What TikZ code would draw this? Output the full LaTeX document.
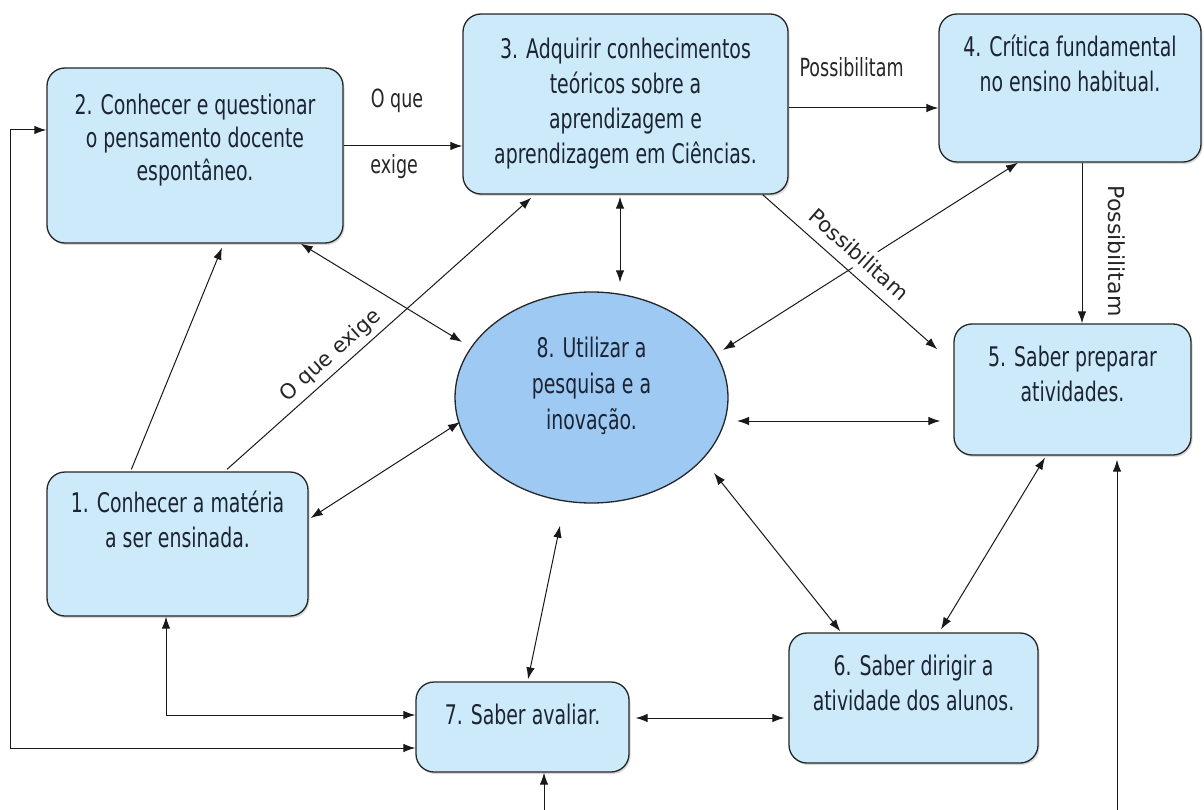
\documentclass[tikz,border=0pt]{standalone}
\usepackage{fontspec}
\setmainfont[FakeStretch=0.70]{DejaVu Sans}
\newfontfamily\widefont{DejaVu Sans}
\usetikzlibrary{arrows.meta,shadows,shapes.geometric}
\definecolor{boxblue}{HTML}{CDEAFB}
\definecolor{ellblue}{HTML}{9DC9F2}
\definecolor{txtcol}{HTML}{1C2433}
\newcommand\liftbox[2]{\raisebox{#1}[\height][\depth]{\begin{tabular}{@{}c@{}}#2\end{tabular}}}
\begin{document}
\begin{tikzpicture}[x=1pt,y=-1pt,
  box/.style={draw=black!85, line width=1.3pt, rounded corners=18pt, fill=boxblue, text=txtcol,
    inner sep=0pt, font=\fontsize{27}{35}\selectfont,
    drop shadow={shadow xshift=1.5pt, shadow yshift=-2pt, opacity=0.3}},
  ell/.style={ellipse, draw=black!85, line width=1.3pt, fill=ellblue, text=txtcol, inner sep=0pt,
    font=\fontsize{27}{36}\selectfont},
  arr/.style={-{Latex[length=12pt,width=8.5pt]}, line width=1pt, black!90},
  barr/.style={{Latex[length=12pt,width=8.5pt]}-{Latex[length=12pt,width=8.5pt]}, line width=1pt, black!90},
  lab/.style={font=\fontsize{25}{28}\selectfont, text=black!85, inner sep=1pt},
  dlab/.style={font=\widefont\fontsize{21}{25}\selectfont, text=black!85, inner sep=3pt},
  vlab/.style={font=\widefont\fontsize{22}{25}\selectfont, text=black!85, inner sep=1pt}
]
\useasboundingbox (0,0) rectangle (1204,810);
\fill[white] (0,0) rectangle (1204,810);

% nodes
\node[box, minimum width=296pt, minimum height=175pt] (b2) at (195,155.5)
  {\fontsize{27}{33}\selectfont\liftbox{15pt}{2. Conhecer e questionar\\o pensamento docente\\espontâneo.}};
\node[box, minimum width=325pt, minimum height=180pt] (b3) at (625.5,104)
  {\liftbox{0pt}{3. Adquirir conhecimentos\\teóricos sobre a\\aprendizagem e\\aprendizagem em Ciências.}};
\node[box, minimum width=262pt, minimum height=148pt] (b4) at (1070,88)
  {\liftbox{20.5pt}{4. Crítica fundamental\\no ensino habitual.}};
\node[box, minimum width=237pt, minimum height=131pt] (b5) at (1072.5,389.5)
  {\liftbox{13pt}{5. Saber preparar\\atividades.}};
\node[box, minimum width=261pt, minimum height=144pt] (b1) at (177.5,544)
  {\liftbox{21.5pt}{1. Conhecer a matéria\\a ser ensinada.}};
\node[box, minimum width=213pt, minimum height=90pt] (b7) at (522.5,727)
  {\liftbox{10pt}{7. Saber avaliar.}};
\node[box, minimum width=249pt, minimum height=130pt] (b6) at (913.5,698)
  {\liftbox{12.5pt}{6. Saber dirigir a\\atividade dos alunos.}};
\node[ell, minimum width=273pt, minimum height=211pt] (e8) at (591.5,397.5)
  {\liftbox{11.5pt}{8. Utilizar a\\pesquisa e a\\inovação.}};

\coordinate (bot7) at (544,810);
\coordinate (bot5) at (1117,810);

% connectors
\draw[arr] ([yshift=9.5pt]b2.east) --
  node[lab,pos=0.45,yshift=45pt]{O que}
  node[lab,pos=0.425,yshift=-21pt]{exige}
  ([yshift=-42pt]b3.west);
\draw[arr] ([yshift=-4pt]b3.east) --
  node[lab,pos=0.42,yshift=41pt]{Possibilitam}
  ([yshift=-20pt]b4.west);
\draw[arr] ([xshift=12pt]b4.south) --
  node[vlab,pos=0.55,xshift=35pt,rotate=-90]{Possibilitam}
  ([xshift=9.5pt]b5.north);
\draw[barr] ([xshift=131.5pt,yshift=47.5pt]e8.center) -- ([xshift=-52pt]b4.south);
\path ([xshift=-26pt]b3.south east) --
  node[dlab,sloped,pos=0.48,above=5pt,fill=white,inner sep=6pt]{Possibilitam}
  ([xshift=-16pt,yshift=-26pt]b5.north west);
\draw[arr] ([xshift=-26pt]b3.south east) -- ([xshift=-16pt,yshift=-26pt]b5.north west);
\draw[barr] ([xshift=-5.5pt,yshift=-2pt]b3.south) -- ([xshift=28.5pt,yshift=9pt]e8.north);
\draw[barr] ([xshift=-43pt]b2.south east) -- ([xshift=-129.5pt,yshift=55.5pt]e8.center);
\draw[arr] ([xshift=85pt,yshift=2pt]b1.north west) -- ([xshift=27pt,yshift=-4pt]b2.south);
\draw[arr] ([xshift=49.5pt,yshift=2pt]b1.north) --
  node[dlab,sloped,pos=0.375,above=2pt]{O que exige}
  ([xshift=69pt,yshift=-3pt]b3.south west);
\draw[barr] ([xshift=2pt,yshift=26pt]b1.east) -- ([xshift=-131.5pt,yshift=-24.5pt]e8.center);
\draw[barr] ([xshift=145.5pt,yshift=-23.5pt]e8.center) -- ([xshift=-13pt,yshift=-31.5pt]b5.west);
\draw[barr] ([xshift=122.5pt,yshift=-75.5pt]e8.center) -- ([xshift=52pt,yshift=1pt]b6.north west);
\draw[barr] ([xshift=-27.5pt,yshift=-2pt]b5.south) -- ([xshift=27.5pt,yshift=3pt]b6.north);
\draw[barr] ([xshift=-31.5pt,yshift=-22pt]e8.south) -- ([xshift=5.5pt,yshift=2pt]b7.north);
\draw[barr] ([xshift=6pt,yshift=9pt]b7.east) -- ([xshift=-4pt,yshift=-20pt]b6.west);
\draw[barr] ([xshift=-11.5pt]b1.south) |- ([yshift=12pt]b7.west);
\draw[barr] ([yshift=25.5pt]b2.west) -- ++(-36,0) |- ([yshift=-21pt]b7.west);
\draw[arr] (bot7) -- ([xshift=21.5pt]b7.south);
\draw[arr] (bot5) -- ([xshift=44.5pt,yshift=-4pt]b5.south);
\end{tikzpicture}
\end{document}
